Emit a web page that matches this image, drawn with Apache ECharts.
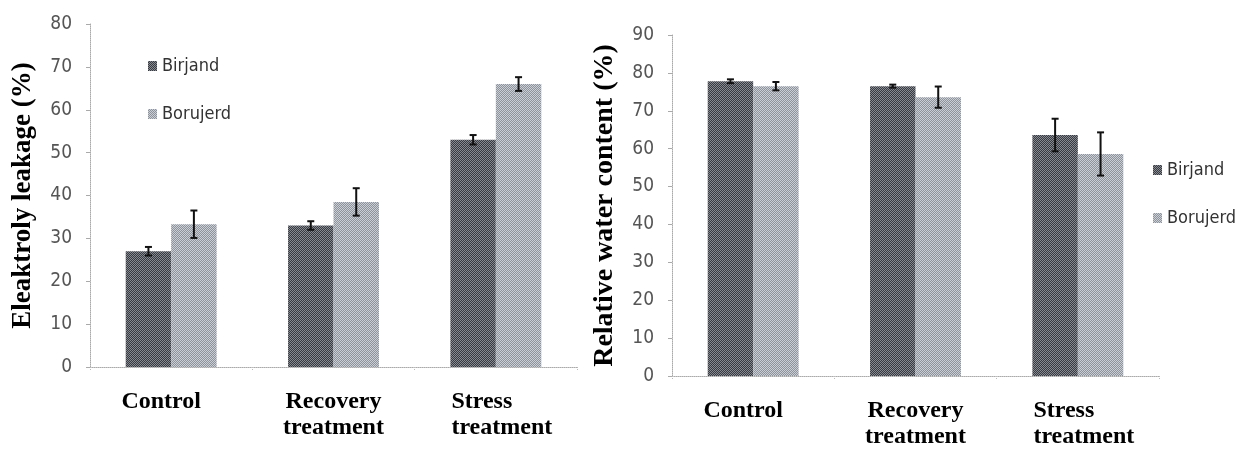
<!DOCTYPE html>
<html>
<head>
<meta charset="utf-8">
<script src="https://cdn.jsdelivr.net/npm/echarts@6/dist/echarts.min.js"></script>
<style>
html,body{margin:0;padding:0;background:#fff;}
#c{width:1248px;height:449px;}
</style>
</head>
<body>
<div id="c"></div>
<script>
// ---- data ----
const categories = ['Control', 'Recovery treatment', 'Stress treatment'];
const seriesNames = ['Birjand', 'Borujerd'];
// Electrolyte leakage (%)
const leakBirjand = [27, 33, 53];
const leakBirjandErr = [1, 1, 1.1];
const leakBorujerd = [33.3, 38.5, 66];
const leakBorujerdErr = [3.2, 3.2, 1.6];
// Relative water content (%)
const rwcBirjand = [77.8, 76.5, 63.6];
const rwcBirjandErr = [0.5, 0.4, 4.3];
const rwcBorujerd = [76.5, 73.6, 58.6];
const rwcBorujerdErr = [1.1, 2.8, 5.7];
const leakTicks = { min: 0, max: 80, interval: 10 };
const rwcTicks = { min: 0, max: 90, interval: 10 };

// ---- styling helpers ----
function checker(c1, c2) {
  const cv = document.createElement('canvas');
  cv.width = 2; cv.height = 2;
  const ctx = cv.getContext('2d');
  ctx.fillStyle = c1; ctx.fillRect(0, 0, 2, 2);
  ctx.fillStyle = c2; ctx.fillRect(0, 0, 1, 1); ctx.fillRect(1, 1, 1, 1);
  return { image: cv, repeat: 'repeat' };
}
const darkFill = checker('#383a42', '#888a92');
const lightFill = checker('#8e9299', '#caced6');
const barCatGap = 0.44;

const tickFont = "'DejaVu Sans Condensed', 'DejaVu Sans', sans-serif";
const serif = "'Liberation Serif', 'Times New Roman', serif";

function catFormatter(v) {
  if (v === 'Control') return '{k|Control}';
  if (v === 'Recovery treatment') return '{c|Recovery}\n{c|treatment}';
  return '{s|Stress}\n{t|treatment}';
}
const catRich = {
  k: { fontFamily: serif, fontWeight: 'bold', fontSize: 24, color: '#000', lineHeight: 26, padding: [0, 20, 0, 0] },
  c: { fontFamily: serif, fontWeight: 'bold', fontSize: 24, color: '#000', lineHeight: 26 },
  s: { fontFamily: serif, fontWeight: 'bold', fontSize: 24, color: '#000', lineHeight: 26, padding: [0, 40, 0, 12] },
  t: { fontFamily: serif, fontWeight: 'bold', fontSize: 24, color: '#000', lineHeight: 26, padding: [0, 0, 0, 12] }
};

function xAxisCfg(gi) {
  return {
    type: 'category', gridIndex: gi, data: categories,
    axisLine: { lineStyle: { color: '#aaa', type: 'dotted', width: 1 } },
    axisTick: { show: true, length: 4, lineStyle: { color: '#bbb', type: 'dotted' } },
    axisLabel: { formatter: catFormatter, rich: catRich, margin: 22, interval: 0 }
  };
}
function yAxisCfg(gi, t, name, nameSize) {
  return {
    type: 'value', gridIndex: gi, min: t.min, max: t.max, interval: t.interval,
    name: name, nameLocation: 'middle', nameGap: 53, nameRotate: 90,
    nameTextStyle: { fontFamily: serif, fontWeight: 'bold', fontSize: nameSize, color: '#000' },
    axisLine: { show: true, lineStyle: { color: '#aaa', type: 'dotted', width: 1 } },
    axisTick: { show: true, length: 4, lineStyle: { color: '#aaa' } },
    axisLabel: { fontFamily: tickFont, fontSize: 19, color: '#555', margin: 18 },
    splitLine: { show: false }
  };
}

function errSeries(gi, vals, errs, side) {
  return {
    type: 'custom', xAxisIndex: gi, yAxisIndex: gi, silent: true, z: 5,
    data: vals.map((v, i) => [i, v, errs[i]]),
    renderItem: function (params, api) {
      const i = api.value(0), v = api.value(1), e = api.value(2);
      const band = api.size([1, 0])[0];
      const bw = band * (1 - barCatGap) / 2;
      const c = api.coord([i, v]);
      const x = c[0] + side * bw / 2;
      const top = api.coord([i, v + e])[1];
      const bot = api.coord([i, v - e])[1];
      const cap = 3.5;
      const st = { stroke: '#111', lineWidth: 2 };
      return {
        type: 'group',
        children: [
          { type: 'line', shape: { x1: x, y1: top, x2: x, y2: bot }, style: st },
          { type: 'line', shape: { x1: x - cap, y1: top, x2: x + cap, y2: top }, style: st },
          { type: 'line', shape: { x1: x - cap, y1: bot, x2: x + cap, y2: bot }, style: st }
        ]
      };
    }
  };
}
function barSeries(gi, name, vals, fill) {
  return {
    type: 'bar', name: name, xAxisIndex: gi, yAxisIndex: gi, data: vals,
    barGap: '0%', barCategoryGap: (barCatGap * 100) + '%',
    itemStyle: { color: fill }
  };
}

const legendText = { fontFamily: tickFont, fontSize: 18, color: '#333' };
const chart = echarts.init(document.getElementById('c'), null, { renderer: 'canvas' });
chart.setOption({
  animation: false,
  backgroundColor: '#fff',
  grid: [
    { left: 90, top: 24, width: 487, height: 343 },
    { left: 672, top: 35, width: 487, height: 344 }
  ],
  legend: [
    { data: seriesNames, orient: 'vertical', left: 143, top: 52, itemWidth: 9, itemHeight: 10, itemGap: 30, textStyle: legendText, icon: 'rect' },
    { data: seriesNames, orient: 'vertical', left: 1148, top: 156, itemWidth: 9, itemHeight: 10, itemGap: 30, textStyle: legendText, icon: 'rect' }
  ],
  xAxis: [xAxisCfg(0), xAxisCfg(1)],
  yAxis: [
    yAxisCfg(0, leakTicks, 'Eleaktroly leakage (%)', 27),
    yAxisCfg(1, rwcTicks, 'Relative water content (%)', 28)
  ],
  series: [
    barSeries(0, seriesNames[0], leakBirjand, darkFill),
    barSeries(0, seriesNames[1], leakBorujerd, lightFill),
    barSeries(1, seriesNames[0], rwcBirjand, darkFill),
    barSeries(1, seriesNames[1], rwcBorujerd, lightFill),
    errSeries(0, leakBirjand, leakBirjandErr, -1),
    errSeries(0, leakBorujerd, leakBorujerdErr, 1),
    errSeries(1, rwcBirjand, rwcBirjandErr, -1),
    errSeries(1, rwcBorujerd, rwcBorujerdErr, 1)
  ]
});
</script>
</body>
</html>
